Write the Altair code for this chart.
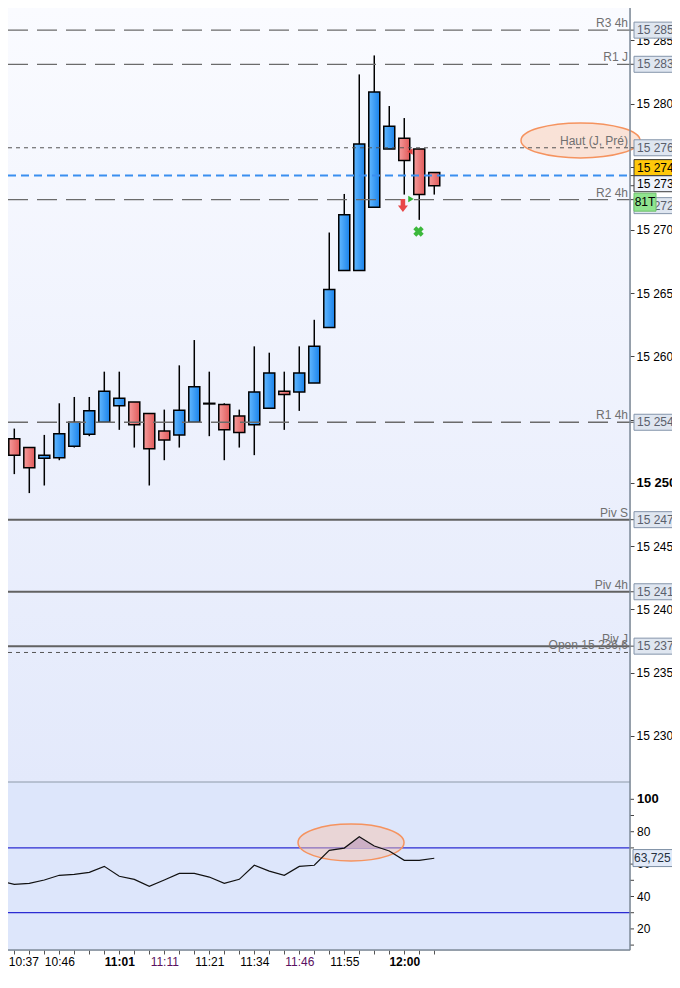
import altair as alt
import pandas as pd

# ---------------- data ----------------
candle_idx = list(range(30))
candle_open = [15255.4, 15253.5, 15252.8, 15251.95, 15252.0, 15252.9, 15253.85, 15254.8, 15256.1, 15256.4,
               15255.5, 15254.1, 15253.8, 15254.8, 15256.3, 15256.2, 15255.3, 15254.6, 15255.9, 15257.25,
               15257.2, 15257.9, 15262.3, 15266.8, 15266.8, 15271.8, 15276.4, 15277.25, 15276.4, 15274.55]
candle_high = [15255.4, 15254.3, 15252.8, 15253.8, 15256.3, 15256.8, 15256.8, 15258.8, 15258.8, 15256.4,
               15255.5, 15255.8, 15259.3, 15261.3, 15258.8, 15256.3, 15255.8, 15260.8, 15260.3, 15258.8,
               15260.8, 15262.9, 15269.8, 15272.85, 15282.3, 15283.8, 15279.8, 15278.85, 15276.4, 15274.55]
candle_low = [15248.3, 15250.7, 15249.2, 15249.8, 15251.8, 15252.8, 15253.7, 15254.8, 15254.2, 15252.8,
              15249.8, 15251.8, 15252.8, 15254.8, 15253.7, 15251.8, 15252.8, 15252.2, 15255.9, 15254.2,
              15255.7, 15257.9, 15262.3, 15266.8, 15266.8, 15271.8, 15276.4, 15272.8, 15270.8, 15272.8]
candle_close = [15251.6, 15252.2, 15251.2, 15252.2, 15253.9, 15254.8, 15255.7, 15257.25, 15256.7, 15254.6,
                15252.7, 15253.4, 15255.75, 15257.6, 15256.25, 15254.2, 15254.0, 15257.2, 15258.7, 15257.0,
                15258.7, 15260.8, 15265.3, 15271.2, 15276.8, 15280.9, 15278.2, 15275.5, 15272.8, 15273.5]
rsi_values = [49.6, 47.5, 48.1, 50.2, 53.1, 53.7, 54.9, 58.6, 52.5, 50.6,
              46.3, 50.2, 54.3, 54.3, 52.0, 48.1, 50.6, 59.3, 55.7, 53.1,
              58.6, 59.3, 68.5, 69.9, 76.9, 71.2, 68.1, 62.3, 62.3, 63.6]

time_idx = [1, 4, 8, 11, 14, 17, 20, 23, 27]
time_lbl = ["10:37", "10:46", "11:01", "11:11", "11:21", "11:34", "11:46", "11:55", "12:00"]
bold_times = [8, 27]
purple_times = [11, 20]

level_names = ["R3 4h", "R1 J", "Haut (J, Pré)", "R2 4h", "R1 4h", "Piv S", "Piv 4h", "Piv J", "Open 15 236,6"]
level_values = [15285.8, 15283.1, 15276.5, 15272.4, 15254.8, 15247.1, 15241.4, 15237.1, 15236.6]
level_styles = ["long", "long", "short", "long", "long", "solid", "solid", "solid", "short"]
last_price = [15274.3]

box_values = [15285.8, 15283.1, 15276.5, 15274.3, 15273.5, 15272.4, 15254.8, 15247.1, 15241.4, 15237.1]
box_texts = ["15 285,8", "15 283,1", "15 276,5", "15 274,3", "15 273,5", "15 272,4",
             "15 254,8", "15 247,1", "15 241,4", "15 237,1"]
box_kinds = ["level", "level", "level", "last", "close", "level", "level", "level", "level", "level"]
tag_value = [15272.2]
tag_text = ["81T"]

price_ticks = [15230, 15235, 15240, 15245, 15250, 15255, 15260, 15265, 15270, 15275, 15280, 15285]

marker_i = [27.38, 27.45, 26.91, 27.95]
marker_p = [15276.2, 15272.45, 15271.94, 15269.88]
marker_kind = ["tri_left", "tri_right", "arrow_down", "cross"]

haut_ellipse_i = [38.75]
haut_ellipse_p = [15277.08]
rsi_ellipse_i = [23.45]
rsi_ellipse_v = [73.3]

rsi_levels = [70, 30]
rsi_tick_values = [10, 20, 30, 40, 50, 60, 70, 80, 90, 100]
rsi_label_values = [100, 80, 60, 40, 20]
rsi_label_texts = ["100", "80", "60", "40", "20"]
rsi_last = [63.725]
rsi_last_text = ["63,725"]

# ---------------- layout ----------------
W = 622
H_MAIN = 774
H = 942
FONT = "Arial, 'Liberation Sans', sans-serif"

X_DOMAIN = [0.58, 42.05]
PRICE_DOMAIN = [15226.36, 15287.55]
RSI_DOMAIN = [6.98, 110.68]

# vertical nudges of axis tags that the platform stacks to avoid overlap (pixels)
BOX_NUDGE = {"15 274,3": -8, "15 273,5": -2, "15 272,4": 6}

xs = alt.Scale(domain=X_DOMAIN, nice=False, zero=False, padding=0)
ys = alt.Scale(domain=PRICE_DOMAIN, range=[H_MAIN, 0], nice=False, zero=False, padding=0)
rs = alt.Scale(domain=RSI_DOMAIN, range=[H, H_MAIN], nice=False, zero=False, padding=0)

x_expr = "".join(f"datum.value == {k} ? '{v}' : " for k, v in zip(time_idx, time_lbl)) + "''"
bold_test = " || ".join(f"datum.value == {k}" for k in bold_times)
purple_test = " || ".join(f"datum.value == {k}" for k in purple_times)
first_test = f"datum.value == {time_idx[0]}"

xaxis = alt.Axis(
    values=candle_idx, labelExpr=x_expr, title=None, grid=False, domain=False,
    tickSize=4, tickColor="#555555", tickWidth=1,
    labelFontSize=12, labelFont=FONT, labelPadding=2, labelOverlap=False, labelFlush=False,
    labelColor={"condition": {"test": purple_test, "value": "#5a1060"}, "value": "#000000"},
    labelFontWeight={"condition": {"test": bold_test, "value": "bold"}, "value": "normal"},
    labelAlign={"condition": {"test": first_test, "value": "left"}, "value": "center"},
    labelOffset={"condition": {"test": first_test, "value": -6}, "value": 0},
)
yaxis = alt.Axis(
    orient="right", values=price_ticks, title=None, grid=False, domain=False,
    labelExpr="replace(format(datum.value, ','), ',', ' ')",
    tickSize=4, tickColor="#444444", labelPadding=2, labelFont=FONT,
    labelFontSize={"condition": {"test": "datum.value == 15250", "value": 13}, "value": 12},
    labelFontWeight={"condition": {"test": "datum.value == 15250", "value": "bold"}, "value": "normal"},
    labelColor="#000000",
)

X = alt.X("i:Q", scale=xs, axis=xaxis)


def PY(field):
    return alt.Y(field, scale=ys, axis=yaxis)


def RY(field):
    return alt.Y(field, scale=rs, axis=None)


candles = pd.DataFrame({"i": candle_idx, "open": candle_open, "high": candle_high,
                        "low": candle_low, "close": candle_close, "rsi": rsi_values})
levels = pd.DataFrame({"name": level_names, "value": level_values, "style": level_styles})
boxes = pd.DataFrame({"value": box_values, "text": box_texts, "kind": box_kinds})
markers = pd.DataFrame({"i": marker_i, "p": marker_p, "kind": marker_kind})
one = pd.DataFrame({"k": [0]})

blue_grad = alt.LinearGradient(gradient="linear", x1=0, x2=1, y1=0, y2=0,
                               stops=[alt.GradientStop(color="#62b8ff", offset=0),
                                      alt.GradientStop(color="#1a82ea", offset=1)])
red_grad = alt.LinearGradient(gradient="linear", x1=0, x2=1, y1=0, y2=0,
                              stops=[alt.GradientStop(color="#f59c9c", offset=0),
                                     alt.GradientStop(color="#e05a5a", offset=1)])
bg_grad = alt.LinearGradient(gradient="linear", x1=0, x2=0, y1=0, y2=1,
                             stops=[alt.GradientStop(color="#fafbff", offset=0),
                                    alt.GradientStop(color="#e3e9fb", offset=1)])


def ellipse_path(ratio):
    k = 0.5523
    r = ratio
    return (f"M1,0 C1,{k*r:.4f} {k:.4f},{r:.4f} 0,{r:.4f} "
            f"C{-k:.4f},{r:.4f} -1,{k*r:.4f} -1,0 "
            f"C-1,{-k*r:.4f} {-k:.4f},{-r:.4f} 0,{-r:.4f} "
            f"C{k:.4f},{-r:.4f} 1,{-k*r:.4f} 1,0 Z")


def rect_path(ratio):
    return f"M-1,{-ratio} L1,{-ratio} L1,{ratio} L-1,{ratio} Z"


# ---------------- price panel ----------------
price_bg = alt.Chart(one).mark_rect(fill=bg_grad).encode(
    x=alt.value(0), x2=alt.value(W), y=alt.value(0), y2=alt.value(H_MAIN))

haut_ell = alt.Chart(pd.DataFrame({"i": haut_ellipse_i, "p": haut_ellipse_p})).mark_point(
    shape=ellipse_path(0.294), size=119 ** 2, filled=True, opacity=1,
    fill="#fbd8c6", fillOpacity=0.7, stroke="#f5935f", strokeWidth=1.5, strokeOpacity=1
).encode(x=X, y=PY("p:Q"))

lv = alt.Chart(levels)
long_lines = lv.transform_filter("datum.style == 'long'").mark_rule(
    color="#6b6b6b", strokeWidth=1.3, strokeDash=[20, 9]).encode(
    x=alt.value(0), x2=alt.value(W), y=PY("value:Q"))
short_lines = lv.transform_filter("datum.style == 'short'").mark_rule(
    color="#555555", strokeWidth=1, strokeDash=[4, 4]).encode(
    x=alt.value(0), x2=alt.value(W), y=PY("value:Q"))
solid_lines = lv.transform_filter("datum.style == 'solid'").mark_rule(
    color="#626262", strokeWidth=2).encode(
    x=alt.value(0), x2=alt.value(W), y=PY("value:Q"))
level_text = lv.mark_text(align="right", baseline="middle", dy=-7, fontSize=12,
                          font=FONT, color="#707070").encode(
    x=alt.value(W - 2), y=PY("value:Q"), text="name:N")

last_line = alt.Chart(pd.DataFrame({"value": last_price})).mark_rule(
    color="#3a8ff0", strokeWidth=2, strokeDash=[8, 5]).encode(
    x=alt.value(0), x2=alt.value(W), y=PY("value:Q"))

cb = alt.Chart(candles)
wicks = cb.mark_rule(color="black", strokeWidth=1.5).encode(x=X, y=PY("low:Q"), y2="high:Q")
bull = cb.transform_filter("datum.close >= datum.open").mark_bar(
    size=11, fill=blue_grad, stroke="black", strokeWidth=1.5, opacity=1).encode(
    x=X, y=PY("open:Q"), y2="close:Q")
bear = cb.transform_filter("datum.close < datum.open").mark_bar(
    size=11, fill=red_grad, stroke="black", strokeWidth=1.5, opacity=1).encode(
    x=X, y=PY("open:Q"), y2="close:Q")

mk = alt.Chart(markers)
m_left = mk.transform_filter("datum.kind == 'tri_left'").mark_point(
    shape="triangle-left", size=40, filled=True, opacity=1, color="#e04040").encode(x=X, y=PY("p:Q"))
m_right = mk.transform_filter("datum.kind == 'tri_right'").mark_point(
    shape="triangle-right", size=40, filled=True, opacity=1, color="#2fb52f").encode(x=X, y=PY("p:Q"))
m_arrow = mk.transform_filter("datum.kind == 'arrow_down'").mark_point(
    shape="M-0.35,-1 L0.35,-1 L0.35,0 L0.77,0 L0,1 L-0.77,0 L-0.35,0 Z", size=169,
    filled=True, opacity=1, color="#e84848").encode(x=X, y=PY("p:Q"))
m_cross = mk.transform_filter("datum.kind == 'cross'").mark_point(
    shape="cross", angle=45, size=110, filled=True, opacity=1, color="#3cb83c").encode(x=X, y=PY("p:Q"))

bx = alt.Chart(boxes)
box_ticks = bx.mark_rule(color="#444444", strokeWidth=1).encode(
    x=alt.value(W), x2=alt.value(W + 4), y=PY("value:Q"))

fill_scale = alt.Scale(domain=["level", "last", "close"], range=["#dfe6f0", "#ffc80a", "#eef3fc"])
stroke_scale = alt.Scale(domain=["level", "last", "close"], range=["#8494aa", "#3a3a3a", "#3a3a3a"])
text_scale = alt.Scale(domain=["level", "last", "close"], range=["#5a606c", "#000000", "#000000"])

nudge_groups = {}
for t in box_texts:
    nudge_groups.setdefault(BOX_NUDGE.get(t, 0), []).append(t)

box_layers = []
for off, names in nudge_groups.items():
    cond = " || ".join(f"datum.text == '{n}'" for n in names)
    sub = bx.transform_filter(cond)
    box_layers.append(sub.mark_point(
        shape=rect_path(0.2), size=80 ** 2, filled=True, opacity=1,
        strokeWidth=1, strokeOpacity=1, yOffset=off).encode(
        x=alt.value(W + 44), y=PY("value:Q"),
        fill=alt.Fill("kind:N", legend=None, scale=fill_scale),
        stroke=alt.Stroke("kind:N", legend=None, scale=stroke_scale)))
    box_layers.append(sub.mark_text(
        align="left", baseline="middle", fontSize=12, font=FONT, yOffset=off).encode(
        x=alt.value(W + 7), y=PY("value:Q"), text="text:N",
        color=alt.Color("kind:N", legend=None, scale=text_scale)))

tag = alt.Chart(pd.DataFrame({"value": tag_value, "text": tag_text}))
tag_rect = tag.mark_point(shape=rect_path(0.82), size=22 ** 2, filled=True, opacity=1,
                          fill="#90e48e", stroke="#6fbf6d", strokeWidth=1, strokeOpacity=1).encode(
    x=alt.value(W + 15), y=PY("value:Q"))
tag_txt = tag.mark_text(align="center", baseline="middle", fontSize=12, font=FONT,
                        color="#000000").encode(x=alt.value(W + 15), y=PY("value:Q"), text="text:N")

price_group = alt.layer(
    price_bg, haut_ell, wicks, bull, bear,
    long_lines, short_lines, solid_lines, level_text, last_line,
    m_left, m_right, m_arrow, m_cross,
    box_ticks, *box_layers, tag_rect, tag_txt)

# ---------------- RSI panel ----------------
rsi_bg = alt.Chart(one).mark_rect(fill="#dde6fb").encode(
    x=alt.value(0), x2=alt.value(W), y=alt.value(H_MAIN), y2=alt.value(H))
rsi_top = alt.Chart(one).mark_rule(color="#8d99a8", strokeWidth=1).encode(
    x=alt.value(0), x2=alt.value(W), y=alt.value(H_MAIN))
rsi_bottom = alt.Chart(one).mark_rule(color="#7d8a99", strokeWidth=1.5).encode(
    x=alt.value(0), x2=alt.value(W), y=alt.value(H))
axis_line = alt.Chart(one).mark_rule(color="#7d8a99", strokeWidth=1.5).encode(
    x=alt.value(W), y=alt.value(0), y2=alt.value(H))

rsi_lv = alt.Chart(pd.DataFrame({"v": rsi_levels})).mark_rule(color="#2b2bd2", strokeWidth=1.2).encode(
    x=alt.value(0), x2=alt.value(W), y=RY("v:Q"))
rsi_ell = alt.Chart(pd.DataFrame({"i": rsi_ellipse_i, "v": rsi_ellipse_v})).mark_point(
    shape=ellipse_path(0.349), size=106 ** 2, filled=True, opacity=1,
    fill="#f8c2a8", fillOpacity=0.45, stroke="#f5935f", strokeWidth=1.5, strokeOpacity=1
).encode(x=X, y=RY("v:Q"))
rsi_area = alt.Chart(candles).transform_calculate(top="max(datum.rsi, 70)").mark_area(
    fill="#cdb0c6", opacity=1).encode(x=X, y=RY("top:Q"), y2=alt.datum(70))
rsi_line = alt.Chart(candles).mark_line(color="#111111", strokeWidth=1.2).encode(
    x=X, y=RY("rsi:Q"))

rsi_ticks = alt.Chart(pd.DataFrame({"v": rsi_tick_values})).mark_rule(
    color="#444444", strokeWidth=1).encode(x=alt.value(W), x2=alt.value(W + 4), y=RY("v:Q"))
rsi_lab = alt.Chart(pd.DataFrame({"v": rsi_label_values, "t": rsi_label_texts}))
rsi_labels = rsi_lab.transform_filter("datum.v != 100").mark_text(
    align="left", baseline="middle", fontSize=12, font=FONT, color="#000000").encode(
    x=alt.value(W + 7), y=RY("v:Q"), text="t:N")
rsi_labels_b = rsi_lab.transform_filter("datum.v == 100").mark_text(
    align="left", baseline="middle", fontSize=13, font=FONT, fontWeight="bold",
    color="#000000").encode(x=alt.value(W + 7), y=RY("v:Q"), text="t:N")
rl = alt.Chart(pd.DataFrame({"v": rsi_last, "t": rsi_last_text}))
rsi_box = rl.mark_point(shape=rect_path(0.405), size=42 ** 2, filled=True, opacity=1,
                        fill="#e2eaf8", stroke="#7d8ea4", strokeWidth=1, strokeOpacity=1).encode(
    x=alt.value(W + 24), y=RY("v:Q"))
rsi_box_txt = rl.mark_text(align="left", baseline="middle", fontSize=12, font=FONT,
                           color="#24303e").encode(x=alt.value(W + 4), y=RY("v:Q"), text="t:N")

rsi_group = alt.layer(rsi_bg, rsi_top, rsi_lv, rsi_ell, rsi_area, rsi_line,
                      rsi_ticks, rsi_labels, rsi_labels_b, rsi_box, rsi_box_txt,
                      rsi_bottom, axis_line)

chart = alt.layer(price_group, rsi_group).resolve_scale(y="independent").properties(
    width=W, height=H,
    autosize=alt.AutoSizeParams(type="none"),
    padding={"left": 0, "top": 0, "right": 42, "bottom": 18},
).configure_view(stroke="transparent").configure(font=FONT)

chart.save("out.html", embed_options={"renderer": "svg", "actions": False})
